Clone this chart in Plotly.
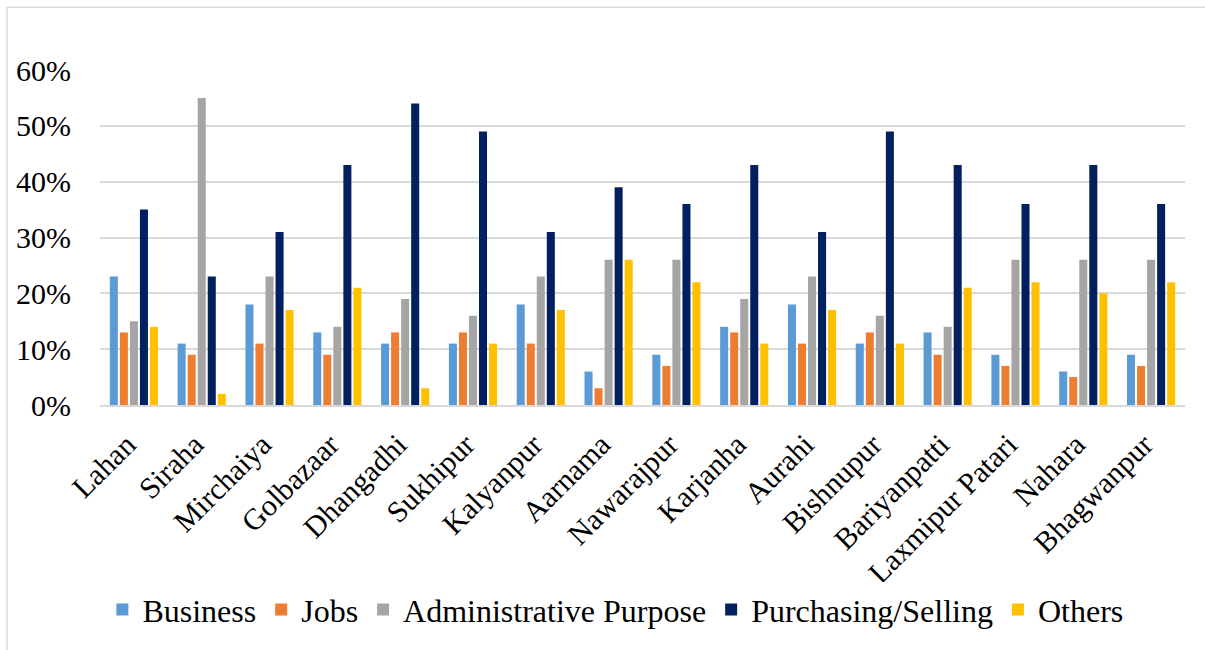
import plotly.graph_objects as go

categories = ["Lahan", "Siraha", "Mirchaiya", "Golbazaar", "Dhangadhi", "Sukhipur",
              "Kalyanpur", "Aarnama", "Nawarajpur", "Karjanha", "Aurahi", "Bishnupur",
              "Bariyanpatti", "Laxmipur Patari", "Nahara", "Bhagwanpur"]
business = [23, 11, 18, 13, 11, 11, 18, 6, 9, 14, 18, 11, 13, 9, 6, 9]
jobs = [13, 9, 11, 9, 13, 13, 11, 3, 7, 13, 11, 13, 9, 7, 5, 7]
administrative = [15, 55, 23, 14, 19, 16, 23, 26, 26, 19, 23, 16, 14, 26, 26, 26]
purchasing = [35, 23, 31, 43, 54, 49, 31, 39, 36, 43, 31, 49, 43, 36, 43, 36]
others = [14, 2, 17, 21, 3, 11, 17, 26, 22, 11, 17, 11, 21, 22, 20, 22]

series = [
    ("Business", business, "#5B9BD5"),
    ("Jobs", jobs, "#ED7D31"),
    ("Administrative Purpose", administrative, "#A5A5A5"),
    ("Purchasing/Selling", purchasing, "#002060"),
    ("Others", others, "#FFC000"),
]

FONT = "Liberation Serif, Times New Roman, serif"

fig = go.Figure()
for name, vals, color in series:
    fig.add_trace(go.Bar(
        x=categories, y=[v / 100 for v in vals], name=name,
        marker=dict(color=color, line=dict(width=0)),
    ))

W, H = 1205, 650
L, R, T, B = 100, 20, 70, 243
pw, ph = W - L - R, H - T - B

def px_x(x):
    return (x - L) / pw

def px_y(y):
    return (H - B - y) / ph

fig.update_layout(
    width=W, height=H,
    margin=dict(l=L, r=R, t=T, b=B),
    paper_bgcolor="white", plot_bgcolor="white",
    barmode="group", bargap=0.26, bargroupgap=0.2,
    font=dict(family=FONT, size=30, color="black"),
    showlegend=True,
    legend=dict(orientation="h", x=0.475, xanchor="center", y=px_y(613), yanchor="middle",
                font=dict(family=FONT, size=32, color="black"),
                itemsizing="constant", tracegroupgap=0, itemwidth=30),
    shapes=[
        dict(type="line", xref="paper", yref="paper", x0=px_x(7), x1=px_x(7),
             y0=px_y(700), y1=px_y(7), line=dict(color="#D9D9D9", width=1.5)),
        dict(type="line", xref="paper", yref="paper", x0=px_x(7), x1=px_x(1260),
             y0=px_y(7), y1=px_y(7), line=dict(color="#D9D9D9", width=1.5)),
    ],
)
fig.update_xaxes(
    tickangle=-45, showgrid=False, showline=True, linecolor="#D9D9D9", linewidth=2,
    ticks="", tickfont=dict(family=FONT, size=30, color="black"),
    ticklabelstandoff=8, ticklabelshift=-7,
)
fig.update_yaxes(
    range=[0, 0.6], dtick=0.1, tickformat=".0%", showgrid=True, gridcolor="#D9D9D9",
    gridwidth=1.5, zeroline=False, showline=False, ticks="",
    tickfont=dict(family=FONT, size=30, color="black"), ticklabelstandoff=28,
)

fig.write_html("out.html")
